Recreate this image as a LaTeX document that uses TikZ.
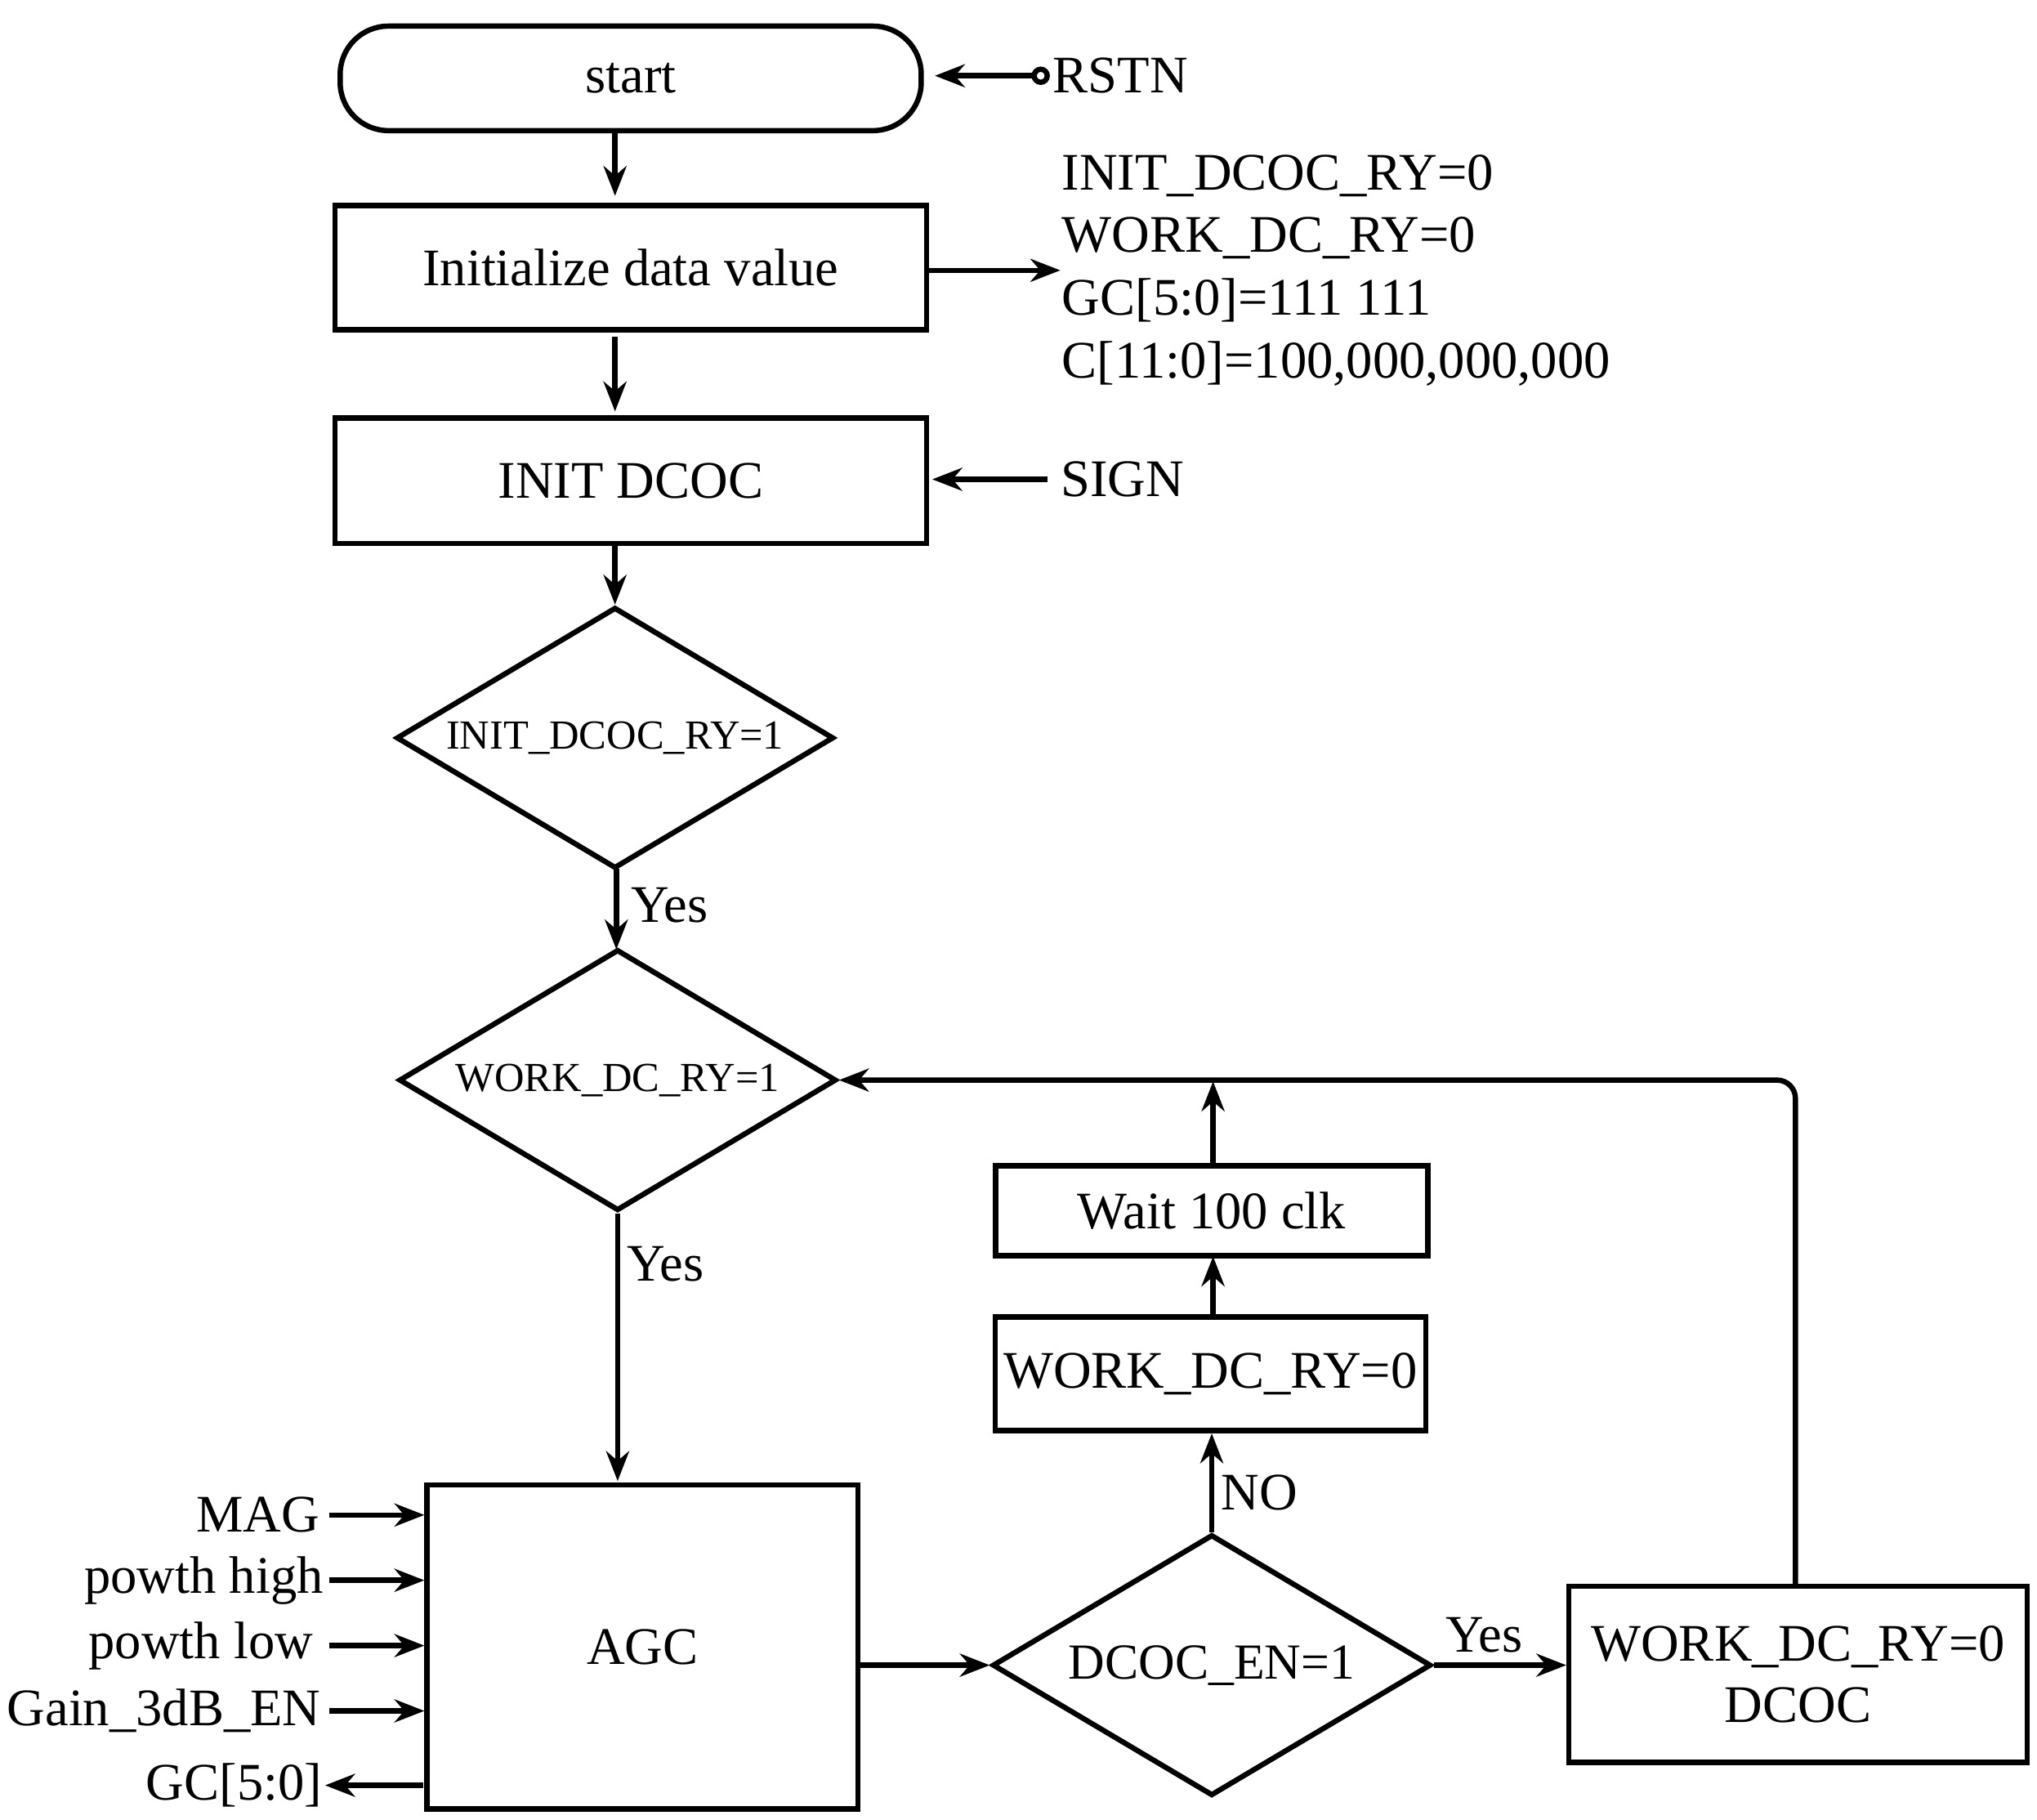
\documentclass[tikz,border=0pt]{standalone}
\usepackage{fontspec}
\setmainfont{Liberation Serif}
\usetikzlibrary{shapes.geometric,arrows.meta}
\begin{document}
\begin{tikzpicture}[x=0.02cm,y=-0.02cm,
  lw/.style={line width=2.3pt},
  box/.style={draw,lw,rectangle,inner sep=0pt,font=\fontsize{23}{27}\selectfont},
  dia/.style={draw,lw,diamond,inner sep=0pt,aspect=1.675},
  arr/.style={lw,-{Stealth[length=13pt,width=10pt]}},
  txt/.style={font=\fontsize{23}{27}\selectfont,inner sep=0pt}]
\useasboundingbox (0,0) rectangle (1560,1393);
\node[box,rounded corners=21pt,minimum width=445*0.02cm,minimum height=80*0.02cm] (start) at (483,60) {start};
\node[txt,anchor=west] (rstn) at (806,58) {RSTN};
\coordinate (rc) at (797,58);
\draw[lw] (rc) circle (5);
\draw[arr] (791,58) -- (716,58);
\node[box,minimum width=453*0.02cm,minimum height=95*0.02cm] (init) at (483,205) {Initialize data value};
\node[txt,anchor=north west,align=left,font=\fontsize{23}{27.3}\selectfont] (vals) at (813,118) {INIT\_DCOC\_RY=0\\WORK\_DC\_RY=0\\GC[5:0]=111 111\\C[11:0]=100,000,000,000};
\draw[arr] (710,207) -- (812,207);
\draw[arr] (471,100) -- (471,150);
\node[box,minimum width=453*0.02cm,minimum height=96*0.02cm] (dcoc) at (483,368) {INIT DCOC};
\draw[arr] (471,258) -- (471,315);
\node[txt,anchor=west] (sign) at (812,367) {SIGN};
\draw[arr] (802,367) -- (714,367);
\node[dia,minimum width=335*0.02cm,minimum height=200*0.02cm,font=\fontsize{18}{20}\selectfont] (d1) at (471,565) {INIT\_DCOC\_RY=1};
\draw[arr] (471,416) -- (d1.north);
\node[dia,minimum width=335*0.02cm,minimum height=200*0.02cm,font=\fontsize{18}{20}\selectfont] (d2) at (473,827) {WORK\_DC\_RY=1};
\draw[arr] (472,665) -- (472,727);
\node[txt,anchor=west] (y1) at (483,693) {Yes};
\node[box,minimum width=330*0.02cm,minimum height=248*0.02cm] (agc) at (492,1261) {AGC};
\draw[arr] (d2.south) -- (473,1134);
\node[txt,anchor=west] (y2) at (480,968) {Yes};
\node[txt,anchor=east] (mag) at (245,1160) {MAG};
\node[txt,anchor=east] (ph) at (248,1210) {powth high};
\node[txt,anchor=east] (pl) at (240,1260) {powth low};
\node[txt,anchor=east] (g3) at (246,1310) {Gain\_3dB\_EN};
\node[txt,anchor=east] (gc) at (247,1367) {GC[5:0]};
\foreach \yy in {1160,1210,1260,1310} \draw[arr] (252,\yy) -- (325,\yy);
\draw[arr] (324,1367) -- (249,1367);
\node[dia,minimum width=336*0.02cm,minimum height=200*0.02cm,font=\fontsize{22}{24}\selectfont] (d3) at (928,1275) {DCOC\_EN=1};
\draw[arr] (657,1275) -- (d3.west);
\node[box,minimum width=330*0.02cm,minimum height=87*0.02cm] (w0) at (927,1052) {WORK\_DC\_RY=0};
\draw[arr] (d3.north) -- (d3.north |- w0.south);
\node[txt,anchor=west] (no) at (935,1143) {NO};
\node[box,minimum width=331*0.02cm,minimum height=69*0.02cm] (wait) at (928,927) {Wait 100 clk};
\draw[arr] (929,1008) -- (929,962);
\draw[arr] (929,892) -- (929,828);
\node[box,minimum width=351*0.02cm,minimum height=135*0.02cm,align=center] (wr) at (1377,1282) {WORK\_DC\_RY=0\\DCOC};
\draw[arr] (d3.east) -- (wr.west |- d3.east);
\node[txt,anchor=west] (y3) at (1107,1252) {Yes};
\draw[arr,rounded corners=8pt] (1375,1215) -- (1375,827) -- (d2.east);
\end{tikzpicture}
\end{document}
